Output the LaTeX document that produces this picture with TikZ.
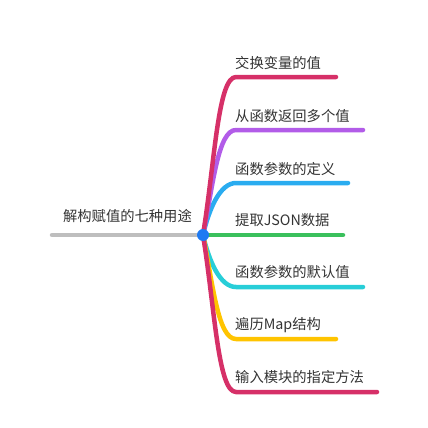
\documentclass[tikz,border=0pt]{standalone}
\usepackage{fontspec}
\setmainfont{Noto Sans CJK SC}
\usepackage{xcolor}
\usepackage{tikz}
\usetikzlibrary{positioning,calc,backgrounds}
\pgfdeclarelayer{edgelayer}
\pgfdeclarelayer{nodelayer}
\pgfsetlayers{background,edgelayer,nodelayer,main}
\definecolor{crimson}{RGB}{214,48,104}
\definecolor{violet}{RGB}{178,92,232}
\definecolor{sky}{RGB}{42,172,240}
\definecolor{leaf}{RGB}{58,192,92}
\definecolor{aqua}{RGB}{40,206,216}
\definecolor{amber}{RGB}{255,196,0}
\definecolor{stem}{RGB}{190,190,190}
\definecolor{ink}{RGB}{51,51,51}
\definecolor{hub}{RGB}{30,122,242}
\tikzstyle{every picture}=[x=1pt,y=-1pt]
\tikzstyle{branch}=[line width=4.5pt,line cap=round]
\tikzstyle{lbl}=[anchor=west,inner sep=0pt,text=ink,font=\fontsize{14.3}{15}\selectfont]
\tikzstyle{hubdot}=[circle,fill=hub,inner sep=0pt,minimum size=12pt]

\begin{document}
\begin{tikzpicture}
	\useasboundingbox (0,0) rectangle (428,428);
	\begin{pgfonlayer}{nodelayer}
		\node [style=hubdot] (root) at (203, 235) {};
		\node [style=lbl, anchor=east] (title) at (192, 216) {解构赋值的七种用途};
		\node [style=lbl] (t1) at (235, 63) {交换变量的值};
		\node [style=lbl] (t2) at (235, 116) {从函数返回多个值};
		\node [style=lbl] (t3) at (235, 169) {函数参数的定义};
		\node [style=lbl] (t4) at (235, 220) {提取JSON数据};
		\node [style=lbl] (t5) at (235, 272) {函数参数的默认值};
		\node [style=lbl] (t6) at (235, 325) {遍历Map结构};
		\node [style=lbl] (t7) at (235, 377) {输入模块的指定方法};
	\end{pgfonlayer}
	\coordinate (s) at (52, 235);
	\coordinate (k1) at (236, 77);  \coordinate (e1) at (336, 77);
	\coordinate (k2) at (236, 130); \coordinate (e2) at (363, 130);
	\coordinate (k3) at (236, 183); \coordinate (e3) at (348, 183);
	\coordinate (e4) at (343, 235);
	\coordinate (k5) at (236, 287); \coordinate (e5) at (363, 287);
	\coordinate (k6) at (236, 339); \coordinate (e6) at (336, 339);
	\coordinate (k7) at (236, 392); \coordinate (e7) at (377, 392);
	\begin{pgfonlayer}{edgelayer}
		\draw [style=branch, stem] (s) -- (root.center);
		\draw [style=branch, leaf] (root.center) -- (e4);
		\draw [style=branch, sky] (root.center) .. controls +(6,-26) and +(-16,0) .. (k3) -- (e3);
		\draw [style=branch, aqua] (root.center) .. controls +(6,26) and +(-16,0) .. (k5) -- (e5);
		\draw [style=branch, violet] (root.center) .. controls +(10,-50) and +(-18,0) .. (k2) -- (e2);
		\draw [style=branch, amber] (root.center) .. controls +(10,50) and +(-18,0) .. (k6) -- (e6);
		\draw [style=branch, crimson] (root.center) .. controls +(12,-75) and +(-18,0) .. (k1) -- (e1);
		\draw [style=branch, crimson] (root.center) .. controls +(12,75) and +(-18,0) .. (k7) -- (e7);
	\end{pgfonlayer}
\end{tikzpicture}
\end{document}
